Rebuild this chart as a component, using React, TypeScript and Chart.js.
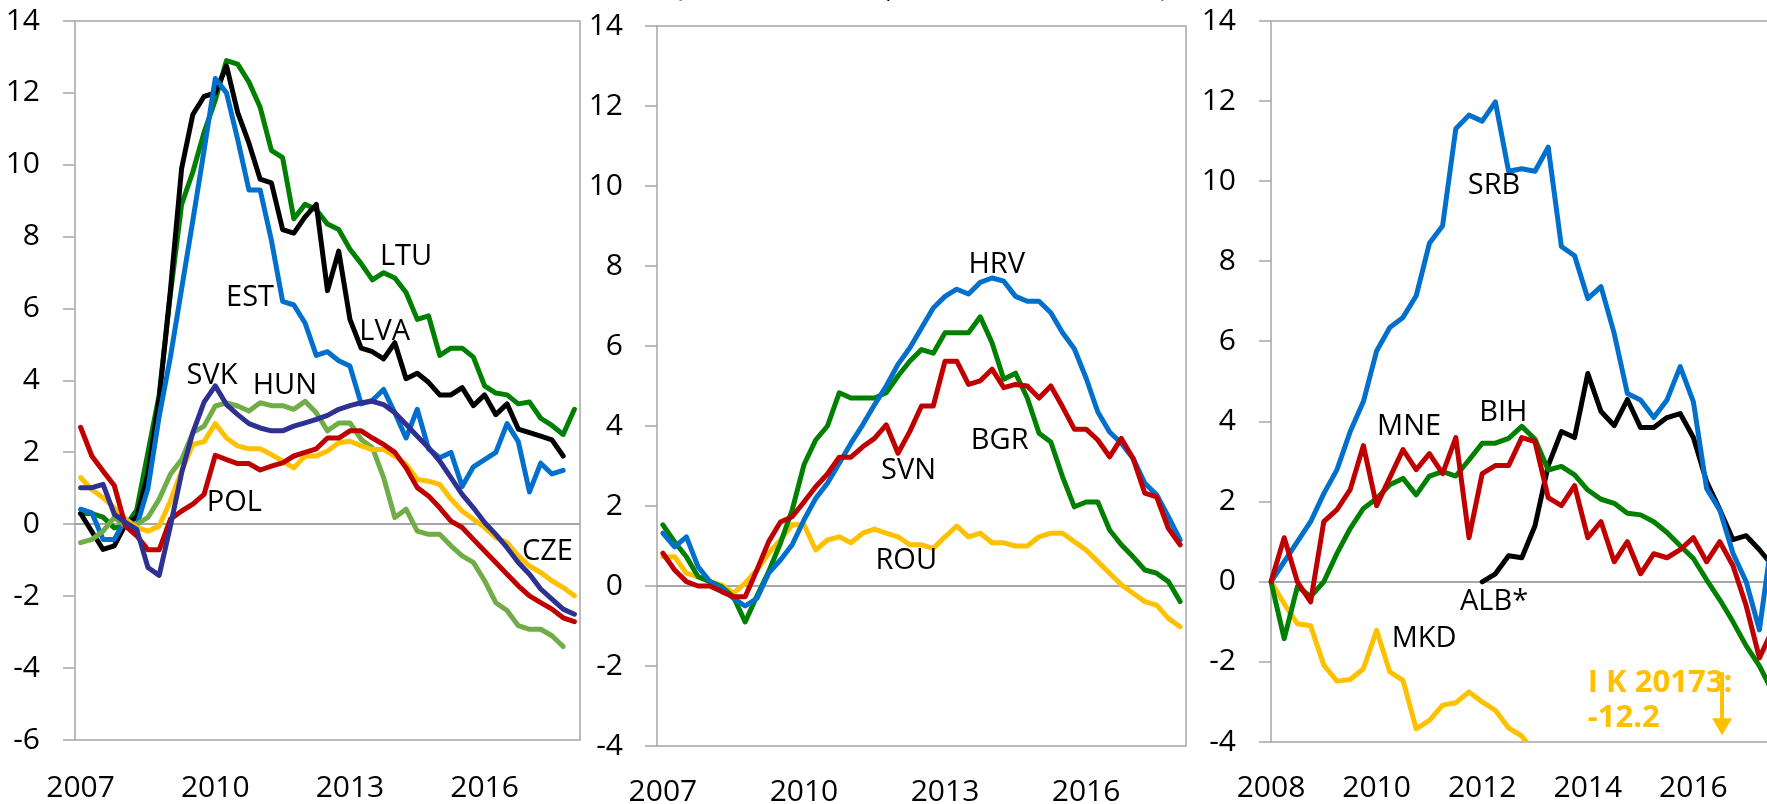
import React, { useEffect, useRef } from 'react';
import { Chart, registerables } from 'chart.js';

Chart.register(...registerables);

const FONT_FAMILY = '"Open Sans", "Noto Sans", sans-serif';
const AXIS_GRAY = '#A6A6A6';
const C_BLACK = '#000000';
const C_GREEN = '#008000';
const C_BLUE = '#0070CC';
const C_RED = '#C00000';
const C_YELLOW = '#FFC000';
const C_LIGHTGREEN = '#70AD47';
const C_NAVY = '#2E3192';

const quarterLabels = (startYear: number, count: number): string[] =>
  Array.from({ length: count }, (_, i) => `${startYear + Math.floor(i / 4)} Q${(i % 4) + 1}`);

// ---------- Panel 1 : 2007 Q1 – 2018 Q1 ----------
const quarters1 = quarterLabels(2007, 45);
const tickYears1 = ['2007', '2010', '2013', '2016'];
const ltu = [0.3, 0.3, 0.2, -0.1, -0.05, 0.4, 2.0, 3.6, 6.4, 8.9, 9.8, 10.9, 11.8, 12.9, 12.8, 12.3, 11.6, 10.4, 10.2, 8.5, 8.9, 8.75, 8.35, 8.2, 7.65, 7.25, 6.8, 7.0, 6.85, 6.45, 5.7, 5.8, 4.7, 4.9, 4.9, 4.65, 3.85, 3.65, 3.6, 3.35, 3.4, 2.95, 2.75, 2.5, 3.2];
const lva = [0.3, -0.2, -0.7, -0.6, 0.0, 0.2, 1.4, 3.5, 6.5, 9.9, 11.4, 11.9, 12.0, 12.75, 11.45, 10.6, 9.6, 9.5, 8.2, 8.1, 8.55, 8.9, 6.5, 7.6, 5.7, 4.9, 4.8, 4.6, 5.05, 4.05, 4.2, 3.95, 3.6, 3.6, 3.8, 3.3, 3.6, 3.05, 3.35, 2.65, 2.55, 2.45, 2.35, 1.9];
const est = [0.42, 0.32, -0.42, -0.42, 0.14, -0.05, 1.0, 3.0, 4.65, 6.55, 8.45, 10.4, 12.4, 12.0, 10.7, 9.3, 9.3, 7.9, 6.2, 6.1, 5.6, 4.7, 4.8, 4.55, 4.4, 3.35, 3.45, 3.75, 3.1, 2.4, 3.2, 2.1, 1.85, 2.0, 1.05, 1.6, 1.8, 2.0, 2.8, 2.3, 0.9, 1.7, 1.4, 1.5];
const svk = [1.02, 1.02, 1.11, 0.28, 0.05, -0.14, -1.2, -1.42, -0.05, 1.43, 2.55, 3.4, 3.85, 3.33, 3.05, 2.8, 2.68, 2.6, 2.6, 2.73, 2.82, 2.92, 3.03, 3.2, 3.3, 3.38, 3.42, 3.33, 3.1, 2.78, 2.45, 2.13, 1.76, 1.3, 0.83, 0.46, 0.05, -0.28, -0.65, -1.06, -1.39, -1.8, -2.08, -2.36, -2.5];
const hun = [-0.51, -0.42, -0.19, 0.19, -0.05, 0.0, 0.19, 0.7, 1.39, 1.8, 2.55, 2.73, 3.29, 3.38, 3.29, 3.15, 3.38, 3.3, 3.3, 3.2, 3.42, 3.1, 2.6, 2.82, 2.82, 2.36, 2.13, 1.3, 0.19, 0.42, -0.19, -0.28, -0.28, -0.6, -0.88, -1.06, -1.57, -2.18, -2.4, -2.82, -2.92, -2.92, -3.1, -3.4];
const pol = [2.7, 1.9, 1.48, 1.08, -0.05, -0.32, -0.71, -0.71, 0.14, 0.37, 0.56, 0.83, 1.92, 1.8, 1.69, 1.69, 1.51, 1.62, 1.71, 1.9, 2.0, 2.1, 2.4, 2.4, 2.6, 2.6, 2.4, 2.22, 2.0, 1.57, 1.02, 0.79, 0.46, 0.09, -0.09, -0.42, -0.74, -1.06, -1.39, -1.71, -1.99, -2.18, -2.36, -2.6, -2.71];
const cze = [1.3, 0.97, 0.74, 0.46, 0.14, -0.09, -0.19, -0.05, 0.65, 1.48, 2.22, 2.3, 2.8, 2.4, 2.18, 2.1, 2.1, 1.94, 1.76, 1.57, 1.9, 1.9, 2.04, 2.27, 2.31, 2.18, 2.08, 2.08, 1.9, 1.67, 1.25, 1.2, 1.11, 0.7, 0.37, 0.14, -0.09, -0.37, -0.51, -0.88, -1.16, -1.34, -1.57, -1.76, -1.99];

// ---------- Panel 2 : 2007 Q1 – 2018 Q1 ----------
const quarters2 = quarterLabels(2007, 45);
const tickYears2 = ['2007', '2010', '2013', '2016'];
const hrv = [1.32, 0.98, 1.23, 0.48, 0.11, -0.06, -0.31, -0.5, -0.31, 0.32, 0.65, 1.03, 1.65, 2.19, 2.57, 3.07, 3.57, 4.03, 4.53, 5.0, 5.54, 5.95, 6.45, 6.95, 7.24, 7.42, 7.3, 7.59, 7.7, 7.62, 7.24, 7.12, 7.12, 6.83, 6.33, 5.93, 5.2, 4.35, 3.85, 3.57, 3.19, 2.57, 2.28, 1.73, 1.15];
const bgr = [1.53, 1.1, 0.73, 0.23, 0.11, -0.02, -0.27, -0.9, -0.25, 0.36, 1.07, 1.9, 3.03, 3.65, 4.0, 4.83, 4.7, 4.7, 4.7, 4.83, 5.25, 5.62, 5.91, 5.82, 6.33, 6.33, 6.33, 6.73, 6.08, 5.17, 5.32, 4.7, 3.82, 3.6, 2.73, 1.98, 2.1, 2.1, 1.4, 1.03, 0.73, 0.4, 0.32, 0.11, -0.39];
const svn = [0.82, 0.4, 0.11, 0.0, 0.0, -0.14, -0.27, -0.27, 0.4, 1.11, 1.6, 1.73, 2.1, 2.48, 2.8, 3.22, 3.22, 3.48, 3.69, 4.03, 3.32, 3.86, 4.5, 4.5, 5.62, 5.62, 5.04, 5.13, 5.42, 4.96, 5.04, 5.0, 4.7, 5.0, 4.48, 3.92, 3.92, 3.65, 3.23, 3.69, 3.19, 2.32, 2.23, 1.44, 1.03];
const rou = [0.73, 0.73, 0.32, 0.23, 0.11, 0.03, -0.18, 0.07, 0.4, 0.82, 1.15, 1.53, 1.53, 0.9, 1.15, 1.23, 1.08, 1.32, 1.42, 1.32, 1.23, 1.03, 1.03, 0.94, 1.23, 1.5, 1.23, 1.32, 1.08, 1.08, 1.0, 1.0, 1.23, 1.32, 1.32, 1.11, 0.9, 0.61, 0.32, 0.03, -0.18, -0.39, -0.48, -0.81, -1.02];

// ---------- Panel 3 : 2008 Q1 – 2018 Q1 ----------
const quarters3 = quarterLabels(2008, 41);
const tickYears3 = ['2008', '2010', '2012', '2014', '2016'];
const srb = [0, 0.5, 1.0, 1.5, 2.2, 2.8, 3.75, 4.5, 5.76, 6.35, 6.6, 7.14, 8.45, 8.89, 11.31, 11.65, 11.5, 11.98, 10.25, 10.31, 10.25, 10.85, 8.37, 8.14, 7.07, 7.37, 6.2, 4.7, 4.54, 4.1, 4.54, 5.37, 4.49, 2.33, 1.79, 0.71, 0.0, -1.2, 1.2];
const mne = [0, 1.1, 0.0, -0.5, 1.5, 1.8, 2.3, 3.4, 1.9, 2.6, 3.3, 2.8, 3.2, 2.7, 3.6, 1.1, 2.7, 2.9, 2.9, 3.6, 3.5, 2.1, 1.9, 2.4, 1.1, 1.5, 0.5, 1.0, 0.2, 0.7, 0.6, 0.8, 1.1, 0.5, 1.0, 0.4, -0.6, -1.9, -1.2];
const bih = [0, -1.42, -0.12, -0.37, 0.0, 0.71, 1.33, 1.83, 2.08, 2.42, 2.58, 2.17, 2.64, 2.75, 2.64, 3.04, 3.46, 3.46, 3.58, 3.88, 3.56, 2.79, 2.88, 2.67, 2.29, 2.06, 1.96, 1.71, 1.67, 1.5, 1.23, 0.9, 0.58, 0.05, -0.45, -1.0, -1.6, -2.1, -2.75];
const alb = [null, null, null, null, null, null, null, null, null, null, null, null, null, null, null, null, 0, 0.2, 0.65, 0.6, 1.4, 2.9, 3.75, 3.6, 5.2, 4.25, 3.9, 4.55, 3.85, 3.85, 4.1, 4.2, 3.6, 2.5, 1.8, 1.05, 1.15, 0.8, 0.4];
const mkd = [0, -0.55, -1.05, -1.1, -2.08, -2.48, -2.44, -2.17, -1.21, -2.25, -2.46, -3.67, -3.46, -3.08, -3.02, -2.75, -3.0, -3.21, -3.65, -3.85, -4.3];

type Series = { label: string; data: (number | null)[]; color: string };
type Note = { text: string; x: number; y: number; color?: string; bold?: boolean; size?: number; align?: CanvasTextAlign };
type Arrow = { x: number; y1: number; y2: number; color: string };

const series1: Series[] = [
  { label: 'SVK', data: svk, color: C_NAVY },
  { label: 'POL', data: pol, color: C_RED },
  { label: 'CZE', data: cze, color: C_YELLOW },
  { label: 'HUN', data: hun, color: C_LIGHTGREEN },
  { label: 'EST', data: est, color: C_BLUE },
  { label: 'LVA', data: lva, color: C_BLACK },
  { label: 'LTU', data: ltu, color: C_GREEN },
];
const series2: Series[] = [
  { label: 'SVN', data: svn, color: C_RED },
  { label: 'HRV', data: hrv, color: C_BLUE },
  { label: 'BGR', data: bgr, color: C_GREEN },
  { label: 'ROU', data: rou, color: C_YELLOW },
];
const series3: Series[] = [
  { label: 'MNE', data: mne, color: C_RED },
  { label: 'SRB', data: srb, color: C_BLUE },
  { label: 'BIH', data: bih, color: C_GREEN },
  { label: 'ALB*', data: alb, color: C_BLACK },
  { label: 'MKD', data: mkd, color: C_YELLOW },
];

const notes1: Note[] = [
  { text: 'LTU', x: 29.0, y: 7.44 },
  { text: 'EST', x: 15.1, y: 6.3 },
  { text: 'LVA', x: 27.1, y: 5.35 },
  { text: 'SVK', x: 11.7, y: 4.13 },
  { text: 'HUN', x: 18.2, y: 3.85 },
  { text: 'POL', x: 13.7, y: 0.59 },
  { text: 'CZE', x: 41.6, y: -0.77 },
];
const notes2: Note[] = [
  { text: 'HRV', x: 28.4, y: 8.04 },
  { text: 'SVN', x: 20.9, y: 2.89 },
  { text: 'BGR', x: 28.65, y: 3.62 },
  { text: 'ROU', x: 20.7, y: 0.64 },
];
const notes3: Note[] = [
  { text: 'SRB', x: 16.9, y: 9.88 },
  { text: 'MNE', x: 10.46, y: 3.87 },
  { text: 'BIH', x: 17.6, y: 4.23 },
  { text: 'ALB*', x: 16.9, y: -0.49 },
  { text: 'MKD', x: 11.6, y: -1.43 },
  { text: 'I K 20173:', x: 24.0, y: -2.53, color: C_YELLOW, bold: true, size: 31, align: 'left' },
  { text: '-12.2', x: 24.0, y: -3.4, color: C_YELLOW, bold: true, size: 31, align: 'left' },
];
const arrows3: Arrow[] = [{ x: 34.17, y1: -2.26, y2: -3.83, color: C_YELLOW }];

type PanelCfg = {
  labels: string[];
  tickYears: string[];
  series: Series[];
  notes: Note[];
  arrows?: Arrow[];
  offset: boolean;
  yMin: number;
  yMax: number;
  yAxisWidth: number;
  xAxisHeight: number;
  padTop: number;
  padRight: number;
  yTickPad: number;
  xTickPad: number;
  titleBits?: { text: string; x: number; y: number }[];
};

function makeDecor(cfg: PanelCfg) {
  return {
    id: 'panelDecor',
    beforeDatasetsDraw(chart: any) {
      const { ctx, chartArea: a } = chart;
      ctx.save();
      ctx.strokeStyle = AXIS_GRAY;
      ctx.lineWidth = 1.5;
      ctx.strokeRect(a.left, a.top, a.right - a.left, a.bottom - a.top);
      ctx.restore();
    },
    afterDatasetsDraw(chart: any) {
      const { ctx } = chart;
      const xs = chart.scales.x;
      const ys = chart.scales.y;
      ctx.save();
      for (const n of cfg.notes) {
        const size = n.size ?? 29;
        ctx.font = `${n.bold ? 'bold ' : ''}${size}px ${FONT_FAMILY}`;
        ctx.fillStyle = n.color ?? '#000';
        ctx.textAlign = n.align ?? 'center';
        ctx.textBaseline = 'middle';
        ctx.fillText(n.text, xs.getPixelForValue(n.x), ys.getPixelForValue(n.y));
      }
      for (const ar of cfg.arrows ?? []) {
        const px = xs.getPixelForValue(ar.x);
        const p1 = ys.getPixelForValue(ar.y1);
        const p2 = ys.getPixelForValue(ar.y2);
        ctx.strokeStyle = ar.color;
        ctx.fillStyle = ar.color;
        ctx.lineWidth = 4;
        ctx.beginPath();
        ctx.moveTo(px, p1);
        ctx.lineTo(px, p2 - 14);
        ctx.stroke();
        ctx.beginPath();
        ctx.moveTo(px - 10, p2 - 17);
        ctx.lineTo(px + 10, p2 - 17);
        ctx.lineTo(px, p2);
        ctx.closePath();
        ctx.fill();
      }
      for (const t of cfg.titleBits ?? []) {
        ctx.font = `30px ${FONT_FAMILY}`;
        ctx.fillStyle = '#000';
        ctx.textAlign = 'left';
        ctx.textBaseline = 'alphabetic';
        ctx.fillText(t.text, t.x, t.y);
      }
      ctx.restore();
    },
  };
}

function buildChart(canvas: HTMLCanvasElement, cfg: PanelCfg) {
  const font = { family: FONT_FAMILY, size: 30 };
  return new Chart(canvas, {
    type: 'line',
    data: {
      labels: cfg.labels,
      datasets: cfg.series.map((s) => ({
        label: s.label,
        data: s.data,
        borderColor: s.color,
        backgroundColor: s.color,
        borderWidth: 5,
        pointRadius: 0,
        tension: 0,
        fill: false,
        spanGaps: false,
        borderJoinStyle: 'round' as const,
        borderCapStyle: 'round' as const,
      })),
    },
    options: {
      animation: false,
      responsive: false,
      events: [],
      layout: { padding: { top: cfg.padTop, right: cfg.padRight, left: 0, bottom: 0 } },
      plugins: { legend: { display: false }, tooltip: { enabled: false }, title: { display: false } },
      scales: {
        x: {
          type: 'category',
          offset: cfg.offset,
          grid: { display: false, drawTicks: false },
          border: { display: false },
          ticks: {
            autoSkip: false,
            maxRotation: 0,
            minRotation: 0,
            padding: cfg.xTickPad,
            font,
            color: '#000',
            callback: (_v: any, i: number) => {
              const lab = cfg.labels[i];
              const yr = lab.slice(0, 4);
              return lab.endsWith('Q1') && cfg.tickYears.includes(yr) ? yr : '';
            },
          },
          afterFit: (s: any) => {
            s.height = cfg.xAxisHeight;
            s.paddingLeft = 0;
            s.paddingRight = 0;
          },
        },
        y: {
          min: cfg.yMin,
          max: cfg.yMax,
          ticks: { stepSize: 2, padding: cfg.yTickPad, font, color: '#000' },
          grid: {
            color: (c: any) => (c.tick && c.tick.value === 0 ? AXIS_GRAY : 'rgba(0,0,0,0)'),
            lineWidth: 2,
            drawTicks: true,
            tickLength: 12,
            tickColor: AXIS_GRAY,
            tickWidth: 1.5,
          },
          border: { display: false },
          afterFit: (s: any) => {
            s.width = cfg.yAxisWidth;
            s.paddingTop = 0;
            s.paddingBottom = 0;
          },
        },
      },
    } as any,
    plugins: [makeDecor(cfg)],
  });
}

const panel1: PanelCfg = {
  labels: quarters1, tickYears: tickYears1, series: series1, notes: notes1, offset: true,
  yMin: -6, yMax: 14, yAxisWidth: 75, xAxisHeight: 64, padTop: 21, padRight: 2, yTickPad: 23, xTickPad: 30,
};
const panel2: PanelCfg = {
  labels: quarters2, tickYears: tickYears2, series: series2, notes: notes2, offset: true,
  yMin: -4, yMax: 14, yAxisWidth: 97, xAxisHeight: 58, padTop: 26, padRight: 14, yTickPad: 22, xTickPad: 28,
  titleBits: [
    { text: '(', x: 114, y: -4 },
    { text: ',', x: 326, y: -3 },
    { text: ')', x: 600, y: -4 },
  ],
};
const panel3: PanelCfg = {
  labels: quarters3, tickYears: tickYears3, series: series3, notes: notes3, arrows: arrows3, offset: false,
  yMin: -4, yMax: 14, yAxisWidth: 81, xAxisHeight: 62, padTop: 21, padRight: 31, yTickPad: 23, xTickPad: 28,
};

export default function App() {
  const r1 = useRef<HTMLCanvasElement>(null);
  const r2 = useRef<HTMLCanvasElement>(null);
  const r3 = useRef<HTMLCanvasElement>(null);

  useEffect(() => {
    const charts = [
      buildChart(r1.current!, panel1),
      buildChart(r2.current!, panel2),
      buildChart(r3.current!, panel3),
    ];
    return () => charts.forEach((c) => c.destroy());
  }, []);

  return (
    <div style={{ position: 'fixed', left: 0, top: 0, width: 1767, height: 804, overflow: 'hidden', background: '#fff' }}>
      <canvas ref={r1} width={582} height={804} style={{ position: 'absolute', left: 0, top: 0 }} />
      <canvas ref={r2} width={640} height={804} style={{ position: 'absolute', left: 560, top: 0 }} />
      <canvas ref={r3} width={640} height={804} style={{ position: 'absolute', left: 1190, top: 0 }} />
    </div>
  );
}
